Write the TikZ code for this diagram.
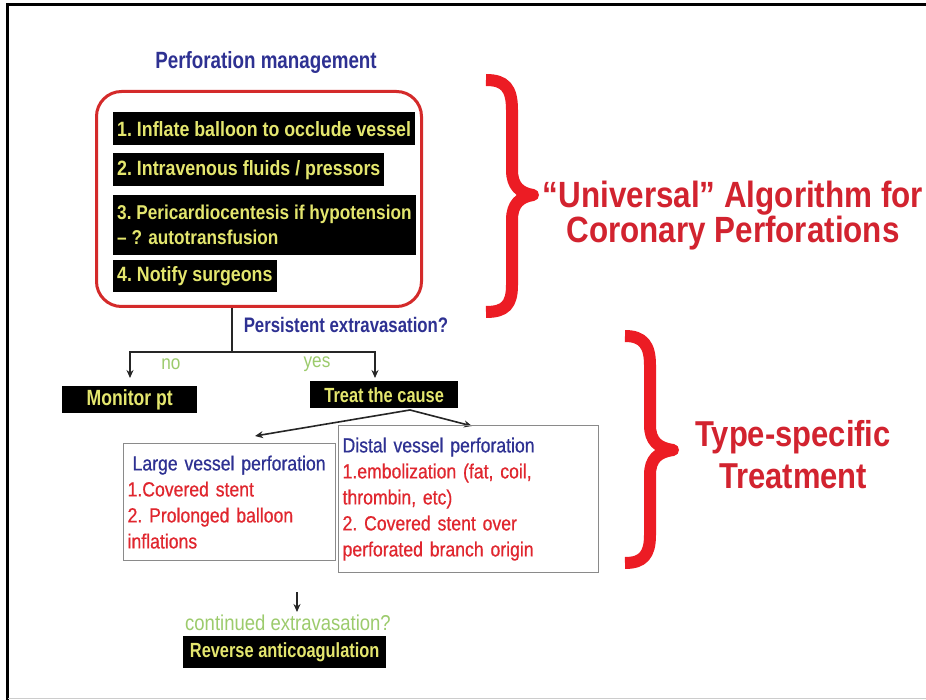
\documentclass[tikz,border=0pt]{standalone}
\usepackage{fontspec}
\setmainfont{Liberation Sans}
\newfontfamily\nar[FakeStretch=0.86]{Liberation Sans}
\newfontfamily\narc[FakeStretch=0.8]{Liberation Sans}
\newfontfamily\narm[FakeStretch=0.86,FakeBold=0.6]{Liberation Sans}
\usetikzlibrary{arrows.meta}
\definecolor{navy}{HTML}{2E3192}
\definecolor{ylw}{HTML}{E4E66E}
\definecolor{lgreen}{HTML}{9CCB6C}
\definecolor{txtred}{HTML}{E0262E}
\definecolor{bracered}{HTML}{EC1C24}
\definecolor{titlered}{HTML}{D2232F}
\definecolor{boxred}{HTML}{D42A2A}
\definecolor{boxgray}{HTML}{8A8A8A}
\tikzset{
  blk/.style={fill=black, text=ylw, font=\narc\bfseries\fontsize{20.5}{25}\selectfont,
    inner xsep=4pt, inner ysep=0pt, anchor=north west, align=left},
  listbox/.style={blk, font=\nar\bfseries\fontsize{20.7}{25}\selectfont},
  conn/.style={line width=1.6pt, draw=black!85},
  arr/.style={conn, -{Stealth[length=8pt,width=7pt]}},
  graybox/.style={draw=boxgray, line width=1.2pt, anchor=north west, align=left,
    inner xsep=4pt, inner ysep=2pt, font=\narm\fontsize{20.5}{26}\selectfont},
  brace/.style={draw=bracered, line width=12pt, line join=round},
  bigtitle/.style={text=titlered, font=\nar\bfseries\fontsize{36.5}{35}\selectfont, align=center},
  greentext/.style={text=lgreen, font=\nar\fontsize{20}{24}\selectfont}
}
\begin{document}
\begin{tikzpicture}[x=1pt,y=-1pt]
\fill[white] (0,0) rectangle (926,700);
\useasboundingbox (0,0) rectangle (926,700);
% frame
\draw[line width=3pt] (7,700) -- (7,5) -- (926,5);
\draw[black!20, line width=1pt] (8,698) -- (926,698);

% title
\node[text=navy, font=\narc\bfseries\fontsize{23.5}{26}\selectfont] (title) at (266,62) {Perforation management};

% red box
\node[draw=boxred, line width=3pt, rounded corners=25pt, minimum width=325pt, minimum height=215pt,
  anchor=north west, inner sep=0pt] (redbox) at (95,90) {};

\node[listbox, minimum height=33pt] (b1) at (113,112) {1.\ Inflate balloon to occlude vessel};
\node[listbox, minimum height=33pt] (b2) at (113,153) {2.\ Intravenous fluids / pressors};
\node[listbox, minimum height=60pt, font=\nar\bfseries\fontsize{20}{25}\selectfont] (b3) at (113,195) {3.\ Pericardiocentesis if hypotension\\– ? autotransfusion};
\node[listbox, minimum height=32pt] (b4) at (113,260) {4.\ Notify surgeons};

% question
\node[text=navy, font=\narc\bfseries\fontsize{21}{24}\selectfont] (q1) at (346,325) {Persistent extravasation?};

\coordinate (split) at (232,352);
\coordinate (noend) at (130,378);
\coordinate (yesend) at (375,378);
\draw[conn] (redbox.south -| split) -- (split);
\draw[arr] (split) -| (noend);
\draw[arr] (split) -| (yesend);

\node[greentext] (no) at (171,364) {no};
\node[greentext] (yes) at (317,364) {yes};

\node[blk, align=center, minimum width=135pt, minimum height=27pt, font=\narc\bfseries\fontsize{22}{24}\selectfont] (monitor) at (62,386) {Monitor pt};
\node[blk, align=center, minimum width=148pt, minimum height=27pt] (treat) at (310,381) {Treat the cause};

\coordinate (fork) at (410,410);
\coordinate (lend) at (255,436);
\coordinate (rend) at (472,426);
\draw[arr] (fork) -- (lend);
\draw[arr] (fork) -- (rend);

% type boxes
\node[graybox, text width=204pt, minimum height=117pt] (large) at (123,443)
 {\textcolor{navy}{\hspace*{5pt}Large vessel perforation}\\
  \textcolor{txtred}{1.Covered stent}\\
  \textcolor{txtred}{2.\ Prolonged balloon}\\
  \textcolor{txtred}{inflations}};
\node[graybox, text width=252pt, minimum height=147pt] (distal) at (338,425)
 {\textcolor{navy}{Distal vessel perforation}\\
  \textcolor{txtred}{1.embolization (fat, coil,}\\
  \textcolor{txtred}{thrombin, etc)}\\
  \textcolor{txtred}{2.\ Covered stent over}\\
  \textcolor{txtred}{perforated branch origin}};

\coordinate (dtop) at (297,592);
\coordinate (dbot) at (297,612);
\draw[arr, line width=1.2pt] (dtop) -- (dbot);

\node[greentext, font=\nar\fontsize{21.5}{24}\selectfont] (cont) at (288,623) {continued extravasation?};
\node[blk, align=center, minimum width=203pt, minimum height=32pt] (reverse) at (183,636) {Reverse anticoagulation};

% braces
\draw[brace] (486,80) .. controls (505,80) and (512,88) .. (512,110) -- (512,170)
  .. controls (512,186) and (520,193) .. (533,195) .. controls (520,197) and (512,204) .. (512,220)
  -- (512,285) .. controls (512,305) and (505,312) .. (486,312);
\draw[brace] (625,336) .. controls (643,336) and (650,345) .. (650,365) -- (650,425)
  .. controls (650,441) and (658,448) .. (673,450) .. controls (658,452) and (650,459) .. (650,475)
  -- (650,535) .. controls (650,555) and (643,563) .. (625,563);

\node[bigtitle] (univ) at (733,216) {“Universal” Algorithm for\\Coronary Perforations};
\node[bigtitle, font=\nar\bfseries\fontsize{36}{42}\selectfont] (typesp) at (793,455) {Type-specific\\Treatment};
\end{tikzpicture}
\end{document}
